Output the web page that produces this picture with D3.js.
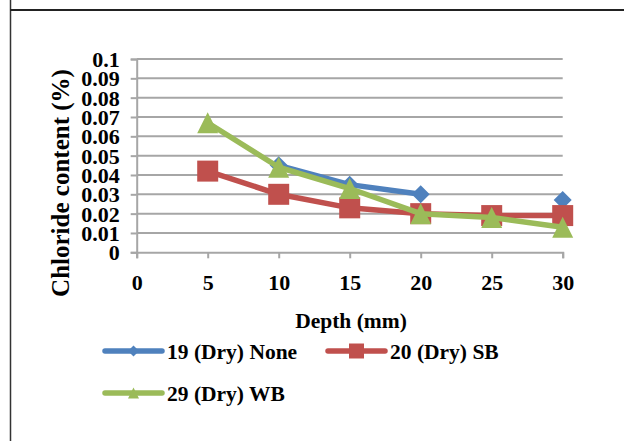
<!DOCTYPE html>
<html>
<head>
<meta charset="utf-8">
<script src="https://cdn.jsdelivr.net/npm/d3@7"></script>
<style>
  html, body { margin: 0; padding: 0; background: #fff; }
  svg { display: block; }
  text { font-family: "Liberation Serif", "Times New Roman", serif; font-weight: bold; fill: #000; }
</style>
</head>
<body>
<script>
// Chloride profiles by depth for three dry specimens
const depths = [5, 10, 15, 20, 25, 30];
const seriesNames = ["19 (Dry) None", "20 (Dry) SB", "29 (Dry) WB"];
const noneValues = [null, 0.045, 0.035, 0.030, null, 0.027];
const sbValues = [0.042, 0.030, 0.023, 0.020, 0.019, 0.019];
const wbValues = [0.067, 0.044, 0.033, 0.020, 0.018, 0.013];
const xTicks = [0, 5, 10, 15, 20, 25, 30];
const yTicks = [0, 0.01, 0.02, 0.03, 0.04, 0.05, 0.06, 0.07, 0.08, 0.09, 0.1];
const yTickLabels = ["0", "0.01", "0.02", "0.03", "0.04", "0.05", "0.06", "0.07", "0.08", "0.09", "0.1"];

const W = 624, H = 441;
const svg = d3.select("body").append("svg").attr("width", W).attr("height", H);

// outer frame
svg.append("line").attr("x1", 10.5).attr("x2", 10.5).attr("y1", 0).attr("y2", H)
  .attr("stroke", "#333").attr("stroke-width", 1.5);
svg.append("line").attr("x1", 10).attr("x2", W).attr("y1", 10).attr("y2", 10)
  .attr("stroke", "#222").attr("stroke-width", 2);

const x = d3.scaleLinear().domain([0, 30]).range([136.7, 562.7]);
const y = d3.scaleLinear().domain([0, 0.1]).range([252.3, 59]);

// horizontal gridlines
svg.append("g").selectAll("line").data(yTicks.slice(1)).join("line")
  .attr("x1", x(0)).attr("x2", x(30))
  .attr("y1", d => y(d)).attr("y2", d => y(d))
  .attr("stroke", "#a6a6a6").attr("stroke-width", 2);

// y axis
const yAxis = d3.axisLeft(y).tickValues(yTicks).tickSize(6).tickPadding(11)
  .tickFormat((d, i) => yTickLabels[i]);
const gy = svg.append("g").attr("transform", `translate(${x(0)},0)`).call(yAxis);
gy.select(".domain").attr("stroke", "#a6a6a6").attr("stroke-width", 2);
gy.selectAll(".tick line").attr("stroke", "#a6a6a6").attr("stroke-width", 2);
gy.selectAll(".tick text").attr("font-size", 22).attr("dy", "0.34em")
  .style("font-family", "'Liberation Serif', serif").style("font-weight", "bold").attr("fill", "#000");

// x axis
const xAxis = d3.axisBottom(x).tickValues(xTicks).tickSize(6).tickPadding(16);
const gx = svg.append("g").attr("transform", `translate(0,${y(0)})`).call(xAxis);
gx.select(".domain").attr("stroke", "#a6a6a6").attr("stroke-width", 2);
gx.selectAll(".tick line").attr("stroke", "#a6a6a6").attr("stroke-width", 2);
gx.selectAll(".tick text").attr("font-size", 22)
  .style("font-family", "'Liberation Serif', serif").style("font-weight", "bold").attr("fill", "#000");

// axis titles
svg.append("text").attr("transform", "translate(69,183) rotate(-90)")
  .attr("text-anchor", "middle").attr("font-size", 25).text("Chloride content (%)");
svg.append("text").attr("x", 351).attr("y", 328)
  .attr("text-anchor", "middle").attr("font-size", 21.5).text("Depth (mm)");

// marker shapes, centred on their bounding box
const markerPath = {
  diamond: s => `M0,${-s / 2}L${s / 2},0L0,${s / 2}L${-s / 2},0Z`,
  square: s => `M${-s / 2},${-s / 2}h${s}v${s}h${-s}Z`,
  triangle: s => `M0,${-s / 2}L${s / 2},${s / 2}L${-s / 2},${s / 2}Z`
};

const series = [
  { name: seriesNames[0], values: noneValues, color: "#4f81bd", shape: "diamond", size: 18, legendSize: 11 },
  { name: seriesNames[1], values: sbValues, color: "#c0504d", shape: "square", size: 21, legendSize: 15 },
  { name: seriesNames[2], values: wbValues, color: "#9bbb59", shape: "triangle", size: 21, legendSize: 11 }
];

const line = d3.line()
  .defined(d => d.v !== null)
  .x(d => x(d.depth)).y(d => y(d.v));

series.forEach(s => {
  const pts = depths.map((d, i) => ({ depth: d, v: s.values[i] }));
  const g = svg.append("g");
  g.append("path").datum(pts).attr("d", line)
    .attr("fill", "none").attr("stroke", s.color).attr("stroke-width", 5.5)
    .attr("stroke-linejoin", "round").attr("stroke-linecap", "round");
  g.selectAll("path.m").data(pts.filter(p => p.v !== null)).join("path")
    .attr("class", "m")
    .attr("transform", p => `translate(${x(p.depth)},${y(p.v)})`)
    .attr("d", markerPath[s.shape](s.size))
    .attr("fill", s.color);
});

// legend
const legendItems = [
  { s: series[0], x: 105, y: 351 },
  { s: series[1], x: 328, y: 351 },
  { s: series[2], x: 105, y: 393 }
];
legendItems.forEach(it => {
  const g = svg.append("g").attr("transform", `translate(${it.x},${it.y})`);
  g.append("line").attr("x1", 0).attr("x2", 57).attr("y1", 0).attr("y2", 0)
    .attr("stroke", it.s.color).attr("stroke-width", 5.5).attr("stroke-linecap", "round");
  g.append("path").attr("transform", "translate(28.5,0)")
    .attr("d", markerPath[it.s.shape](it.s.legendSize)).attr("fill", it.s.color);
  g.append("text").attr("x", 62).attr("y", 8).attr("font-size", 21.5).text(it.s.name);
});
</script>
</body>
</html>
